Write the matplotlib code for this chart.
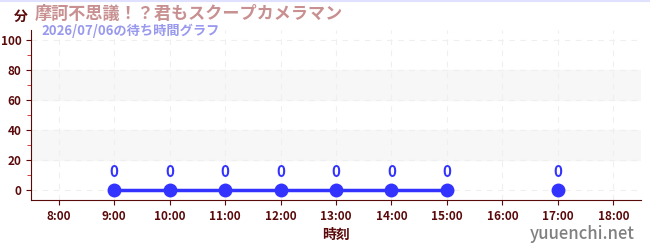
import matplotlib.pyplot as plt
import numpy as np

plt.rcParams['font.family'] = ['Noto Sans CJK JP', 'DejaVu Sans']

hours = [9, 10, 11, 12, 13, 14, 15, 16, 17]
waits = [0, 0, 0, 0, 0, 0, 0, np.nan, 0]
tick_hours = list(range(8, 19))
tick_labels = [f"{h}:00" for h in tick_hours]

title = "摩訶不思議！？君もスクープカメラマン"
subtitle = "2026/07/06の待ち時間グラフ"

dark = '#5a0a0a'
blue = '#3333ff'

fig = plt.figure(figsize=(6.5, 2.5), dpi=100)
ax = fig.add_axes([31 / 650, 50 / 250, 610 / 650, 170 / 250])

ax.set_xlim(7.5, 18.5)
ax.set_ylim(-6.7, 106.7)

# background bands
for lo, hi in [(20, 40), (60, 80)]:
    ax.axhspan(lo, hi, color='#f7f7f7', zorder=0)

ax.plot(hours, waits, color=blue, linewidth=2.5, marker='o', markersize=9, zorder=3)
for h, w in zip(hours, waits):
    if not np.isnan(w):
        ax.annotate(f"{int(w)}", (h, w), xytext=(0, 7), textcoords='offset points',
                    ha='center', va='bottom', color=blue, fontsize=11, fontweight='bold')

ax.set_xticks(tick_hours)
ax.set_xticklabels(tick_labels)
ax.set_yticks([0, 20, 40, 60, 80, 100])
ax.set_yticks([10, 30, 50, 70, 90], minor=True)
ax.tick_params(axis='both', colors=dark, labelsize=8.5)
ax.tick_params(axis='y', which='minor', colors='#cc2222', length=3)
for lab in ax.get_xticklabels() + ax.get_yticklabels():
    lab.set_fontweight('bold')
ax.grid(True, color='#efefef', linestyle=(0, (5, 5)), linewidth=0.8)
ax.set_axisbelow(True)

for s in ['top', 'right']:
    ax.spines[s].set_visible(False)
for s in ['left', 'bottom']:
    ax.spines[s].set_color(dark)

ax.set_xlabel('時刻', color=dark, fontsize=10, fontweight='bold', labelpad=4)

fig.text(14 / 650, 1 - 17 / 250, '分', color=dark, fontsize=10, fontweight='bold', ha='left', va='center')
fig.text(35 / 650, 1 - 14 / 250, title, color='#c89090', fontsize=12.3, fontweight='bold', ha='left', va='center')
fig.text(41 / 650, 1 - 31 / 250, subtitle, color='#9999ee', fontsize=9.5, fontweight='bold', ha='left', va='center')
fig.text(635 / 650, 1 - 234 / 250, 'yuuenchi.net', color='#808080', fontsize=12, fontweight='medium',
         ha='right', va='center')

fig.add_artist(plt.Line2D([0, 1], [0.998, 0.998], color='#e0e0ff', linewidth=1.5))

fig.savefig('out.png', dpi=100)
